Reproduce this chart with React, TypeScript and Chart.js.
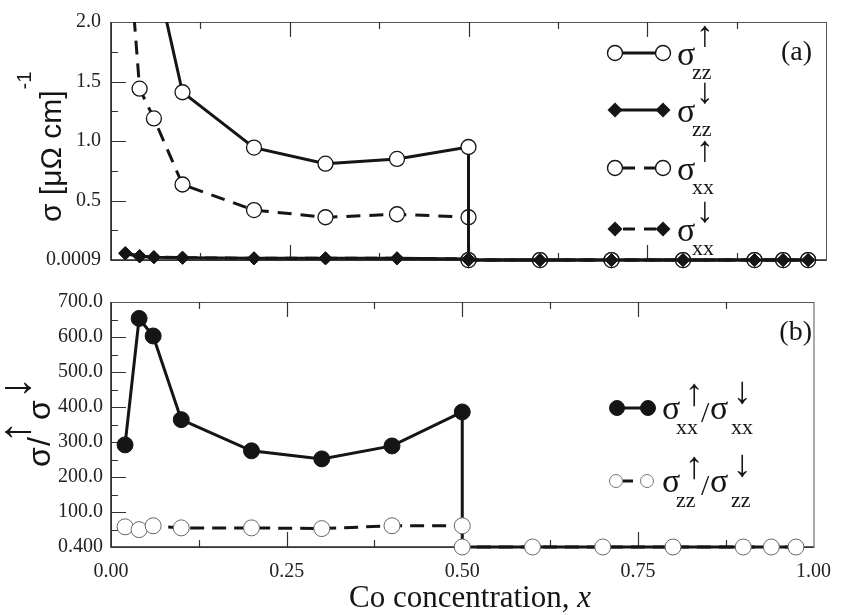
import React, { useEffect, useRef } from "react";
import { Chart, registerables } from "chart.js";

Chart.register(...registerables);

// ---------------- data ----------------
const concentration = [0.02, 0.04, 0.06, 0.1, 0.2, 0.3, 0.4, 0.5, 0.5, 0.6, 0.7, 0.8, 0.9, 0.94, 0.975];
const sigmaZzUp = [3.9, 3.2, 2.48, 1.41, 0.945, 0.81, 0.85, 0.95, 0, 0, 0, 0, 0, 0, 0];
const sigmaZzDown = [0.06, 0.035, 0.025, 0.02, 0.015, 0.015, 0.015, 0.01, 0, 0, 0, 0, 0, 0, 0];
const sigmaXxUp = [3.0, 1.44, 1.19, 0.635, 0.42, 0.36, 0.385, 0.36, 0, 0, 0, 0, 0, 0, 0];
const sigmaXxDown = [0.055, 0.03, 0.025, 0.02, 0.015, 0.015, 0.015, 0.01, 0, 0, 0, 0, 0, 0, 0];
const ratioXx = [292, 653, 603, 364, 275, 252, 289, 386, 0.4, 0.4, 0.4, 0.4, 0.4, 0.4, 0.4];
const ratioZz = [58, 50, 61, 55, 55, 53, 61, 61, 0.4, 0.4, 0.4, 0.4, 0.4, 0.4, 0.4];

const xTickValues = [0, 0.25, 0.5, 0.75, 1.0];
const xTickLabels = ["0.00", "0.25", "0.50", "0.75", "1.00"];
const topYTickValues = [0.0009, 0.5, 1.0, 1.5, 2.0];
const topYTickLabels = ["0.0009", "0.5", "1.0", "1.5", "2.0"];
const botYTickValues = [0.4, 100, 200, 300, 400, 500, 600, 700];
const botYTickLabels = ["0.400", "100.0", "200.0", "300.0", "400.0", "500.0", "600.0", "700.0"];

// ---------------- layout ----------------
const W = 844;
const TOP_H = 282;
const BOT_TOP = 282;
const BOT_H = 333;
const INK = "#151515";
const SERIF = "'Liberation Serif', 'Times New Roman', serif";
const SANS = "'Liberation Sans', Arial, sans-serif";

const pts = (ys: number[]) => concentration.map((x, i) => ({ x, y: ys[i] }));

function frameAndTicks(chart: any, yStep: number, yCount: number) {
  const { ctx, chartArea: a, scales } = chart;
  const xs = scales.x;
  const ys = scales.y;
  ctx.save();
  ctx.strokeStyle = "#555";
  ctx.lineWidth = 1;
  ctx.strokeRect(a.left + 0.5, a.top + 0.5, a.right - a.left, a.bottom - a.top);
  ctx.strokeStyle = "#2a2a2a";
  ctx.lineWidth = 1.6;
  ctx.beginPath();
  ctx.moveTo(a.left, a.top);
  ctx.lineTo(a.left, a.bottom);
  ctx.lineTo(a.right, a.bottom);
  ctx.stroke();
  ctx.strokeStyle = "#333";
  ctx.lineWidth = 1.2;
  ctx.beginPath();
  for (let k = 1; k < 8; k++) {
    const px = Math.round(xs.getPixelForValue(k * 0.125)) + 0.5;
    const len = k % 2 === 0 ? 15 : 7;
    ctx.moveTo(px, a.bottom);
    ctx.lineTo(px, a.bottom - len);
    ctx.moveTo(px, a.top);
    ctx.lineTo(px, a.top + len);
  }
  for (let k = 1; k < yCount; k++) {
    const py = Math.round(ys.getPixelForValue(k * yStep)) + 0.5;
    const len = k % 2 === 0 ? 15 : 7;
    ctx.moveTo(a.left, py);
    ctx.lineTo(a.left + len, py);
  }
  ctx.stroke();
  ctx.restore();
}

function txt(ctx: CanvasRenderingContext2D, s: string, x: number, y: number, font: string, align: CanvasTextAlign = "left") {
  ctx.font = font;
  ctx.textAlign = align;
  ctx.textBaseline = "alphabetic";
  ctx.fillStyle = INK;
  ctx.fillText(s, x, y);
}

function circle(ctx: CanvasRenderingContext2D, x: number, y: number, r: number, fill: string, stroke: string, lw: number) {
  ctx.beginPath();
  ctx.arc(x, y, r, 0, Math.PI * 2);
  ctx.fillStyle = fill;
  ctx.fill();
  ctx.lineWidth = lw;
  ctx.strokeStyle = stroke;
  ctx.stroke();
}

function diamond(ctx: CanvasRenderingContext2D, x: number, y: number, r: number) {
  ctx.beginPath();
  ctx.moveTo(x, y - r);
  ctx.lineTo(x + r, y);
  ctx.lineTo(x, y + r);
  ctx.lineTo(x - r, y);
  ctx.closePath();
  ctx.fillStyle = INK;
  ctx.fill();
}

const topDecor = {
  id: "topDecor",
  beforeDatasetsDraw(chart: any) {
    frameAndTicks(chart, 0.25, 8);
  },
  afterDraw(chart: any) {
    const ctx: CanvasRenderingContext2D = chart.ctx;
    ctx.save();
    // legend
    const rows = [53, 110, 168, 229];
    const x1 = 615, x2 = 663;
    rows.forEach((r, i) => {
      const dashed = i >= 2;
      ctx.strokeStyle = INK;
      ctx.lineWidth = 3;
      ctx.setLineDash(dashed ? [12, 9] : []);
      ctx.beginPath();
      ctx.moveTo(dashed ? x1 + 8 : x1, r);
      ctx.lineTo(x2, r);
      ctx.stroke();
      ctx.setLineDash([]);
      if (i % 2 === 0) {
        circle(ctx, x1, r, 7.5, "#fff", INK, 1.4);
        circle(ctx, x2, r, 7.5, "#fff", INK, 1.4);
      } else {
        diamond(ctx, x1, r, 7.5);
        diamond(ctx, x2, r, 7.5);
      }
      txt(ctx, "σ", 677, r + 12, `34px ${SERIF}`);
      txt(ctx, i % 2 === 0 ? "↑" : "↓", 705, r - 7, `36px ${SERIF}`, "center");
      txt(ctx, i < 2 ? "zz" : "xx", 692, r + 26, `22px ${SERIF}`);
    });
    txt(ctx, "(a)", 812, 60, `28px ${SERIF}`, "right");
    // y title
    ctx.save();
    ctx.translate(61, 222);
    ctx.rotate(-Math.PI / 2);
    const main = "σ [μΩ cm]";
    ctx.font = `30px ${SANS}`;
    const w = ctx.measureText(main).width;
    txt(ctx, main, 0, 0, `30px ${SANS}`);
    txt(ctx, "-1", w + 1, -30, `20px ${SANS}`);
    ctx.restore();
    ctx.restore();
  },
};

const botDecor = {
  id: "botDecor",
  beforeDatasetsDraw(chart: any) {
    frameAndTicks(chart, 50, 14);
  },
  afterDraw(chart: any) {
    const ctx: CanvasRenderingContext2D = chart.ctx;
    ctx.save();
    const rows = [408 - BOT_TOP, 481 - BOT_TOP];
    // row 1: filled circles
    ctx.strokeStyle = INK;
    ctx.lineWidth = 3;
    ctx.beginPath();
    ctx.moveTo(617, rows[0]);
    ctx.lineTo(648, rows[0]);
    ctx.stroke();
    circle(ctx, 617, rows[0], 7.5, INK, INK, 1);
    circle(ctx, 648, rows[0], 7.5, INK, INK, 1);
    // row 2: open circles dashed
    ctx.lineWidth = 3;
    ctx.beginPath();
    ctx.moveTo(623, rows[1]);
    ctx.lineTo(633, rows[1]);
    ctx.stroke();
    circle(ctx, 616, rows[1], 6.5, "#fff", "#777", 1);
    circle(ctx, 647, rows[1], 6.5, "#fff", "#777", 1);
    rows.forEach((r, i) => {
      const sub = i === 0 ? "xx" : "zz";
      txt(ctx, "σ", 662, r + 11, `34px ${SERIF}`);
      txt(ctx, sub, 676, r + 26, `22px ${SERIF}`);
      txt(ctx, "↑", 694, r - 3, `38px ${SERIF}`, "center");
      txt(ctx, "/", 701, r + 14, `30px ${SERIF}`);
      txt(ctx, "σ", 710, r + 11, `34px ${SERIF}`);
      txt(ctx, sub, 731, r + 26, `22px ${SERIF}`);
      txt(ctx, "↓", 742, r - 5, `38px ${SERIF}`, "center");
    });
    txt(ctx, "(b)", 812, 340 - BOT_TOP, `28px ${SERIF}`, "right");
    // x title
    ctx.font = `31px ${SERIF}`;
    const t1 = "Co concentration, ";
    const w1 = ctx.measureText(t1).width;
    ctx.font = `italic 31px ${SERIF}`;
    const w2 = ctx.measureText("x").width;
    const start = 470 - (w1 + w2) / 2;
    txt(ctx, t1, start, 607 - BOT_TOP, `31px ${SERIF}`);
    txt(ctx, "x", start + w1, 607 - BOT_TOP, `italic 31px ${SERIF}`);
    // y title
    ctx.save();
    ctx.translate(50, 467 - BOT_TOP);
    ctx.rotate(-Math.PI / 2);
    txt(ctx, "σ", 0, 0, `32px ${SANS}`);
    txt(ctx, "/", 21, 0, `32px ${SANS}`);
    txt(ctx, "σ", 47, 0, `32px ${SANS}`);
    txt(ctx, "↑", 35, -20, `44px ${SERIF}`, "center");
    txt(ctx, "↓", 79, -20, `44px ${SERIF}`, "center");
    ctx.restore();
    ctx.restore();
  },
};

function yScale(min: number, max: number, values: number[], labels: string[], pad: number) {
  return {
    type: "linear",
    min,
    max,
    afterBuildTicks: (s: any) => {
      s.ticks = values.map((v) => ({ value: v }));
    },
    afterFit: (s: any) => {
      s.width = 111;
    },
    ticks: {
      autoSkip: false,
      padding: pad,
      color: "#222",
      font: { family: SERIF, size: 20 },
      callback: (_v: any, i: number) => labels[i],
    },
    grid: { display: false, drawTicks: false },
    border: { display: false },
  };
}

export default function App() {
  const topRef = useRef<HTMLCanvasElement>(null);
  const botRef = useRef<HTMLCanvasElement>(null);

  useEffect(() => {
    const clipTop = { left: 12, right: 12, top: 0, bottom: 12 };
    const top = new Chart(topRef.current as HTMLCanvasElement, {
      type: "line",
      data: {
        datasets: [
          {
            label: "σzz↓",
            data: pts(sigmaZzDown),
            borderColor: INK,
            borderWidth: 3,
            pointStyle: "rectRot",
            pointRadius: 6.5,
            pointBackgroundColor: INK,
            pointBorderColor: INK,
            pointBorderWidth: 1,
            clip: clipTop,
          },
          {
            label: "σxx↓",
            data: pts(sigmaXxDown),
            borderColor: INK,
            borderWidth: 3,
            borderDash: [12, 8],
            pointStyle: "rectRot",
            pointRadius: 6.5,
            pointBackgroundColor: INK,
            pointBorderColor: INK,
            pointBorderWidth: 1,
            clip: clipTop,
          },
          {
            label: "σzz↑",
            data: pts(sigmaZzUp),
            borderColor: INK,
            borderWidth: 3,
            pointStyle: "circle",
            pointRadius: 7.5,
            pointBackgroundColor: "#fff",
            pointBorderColor: INK,
            pointBorderWidth: 1.3,
            clip: clipTop,
          },
          {
            label: "σxx↑",
            data: pts(sigmaXxUp),
            borderColor: INK,
            borderWidth: 3,
            borderDash: [14, 9],
            pointStyle: "circle",
            pointRadius: 7.5,
            pointBackgroundColor: "#fff",
            pointBorderColor: INK,
            pointBorderWidth: 1.3,
            clip: clipTop,
          },
        ],
      },
      options: {
        responsive: false,
        maintainAspectRatio: false,
        animation: false,
        layout: { padding: { left: 0, top: 18, right: 18, bottom: 13 } },
        plugins: { legend: { display: false }, tooltip: { enabled: false } },
        scales: {
          x: { type: "linear", min: 0, max: 1, display: false },
          y: yScale(0.0009, 2.0, topYTickValues, topYTickLabels, 10) as any,
        },
      } as any,
      plugins: [topDecor],
    });

    const bot = new Chart(botRef.current as HTMLCanvasElement, {
      type: "line",
      data: {
        datasets: [
          {
            label: "σzz↑/σzz↓",
            data: pts(ratioZz),
            borderColor: INK,
            borderWidth: 3,
            borderDash: [14, 8],
            pointStyle: "circle",
            pointRadius: 8,
            pointBackgroundColor: "#fff",
            pointBorderColor: "#666",
            pointBorderWidth: 1,
            clip: false,
          },
          {
            label: "σxx↑/σxx↓",
            data: pts(ratioXx),
            borderColor: INK,
            borderWidth: 3,
            pointStyle: "circle",
            pointRadius: (c: any) => (c.raw && c.raw.y > 1 ? 8 : 0),
            pointBackgroundColor: INK,
            pointBorderColor: INK,
            pointBorderWidth: 1,
            clip: false,
          },
        ],
      },
      options: {
        responsive: false,
        maintainAspectRatio: false,
        animation: false,
        layout: { padding: { left: 0, top: 13, right: 18, bottom: 0 } },
        plugins: { legend: { display: false }, tooltip: { enabled: false } },
        scales: {
          x: {
            type: "linear",
            min: 0,
            max: 1,
            afterBuildTicks: (s: any) => {
              s.ticks = xTickValues.map((v) => ({ value: v }));
            },
            afterFit: (s: any) => {
              s.height = 68;
            },
            ticks: {
              autoSkip: false,
              maxRotation: 0,
              padding: 13,
              color: "#222",
              font: { family: SERIF, size: 20 },
              callback: (_v: any, i: number) => xTickLabels[i],
            },
            grid: { display: false, drawTicks: false },
            border: { display: false },
          },
          y: yScale(0.4, 700, botYTickValues, botYTickLabels, 8) as any,
        },
      } as any,
      plugins: [botDecor],
    });

    return () => {
      top.destroy();
      bot.destroy();
    };
  }, []);

  return (
    <div style={{ position: "absolute", left: 0, top: 0, width: W, height: 615, background: "#fff" }}>
      <canvas ref={topRef} width={W} height={TOP_H} style={{ position: "absolute", left: 0, top: 0, display: "block" }} />
      <canvas ref={botRef} width={W} height={BOT_H} style={{ position: "absolute", left: 0, top: BOT_TOP, display: "block" }} />
    </div>
  );
}
